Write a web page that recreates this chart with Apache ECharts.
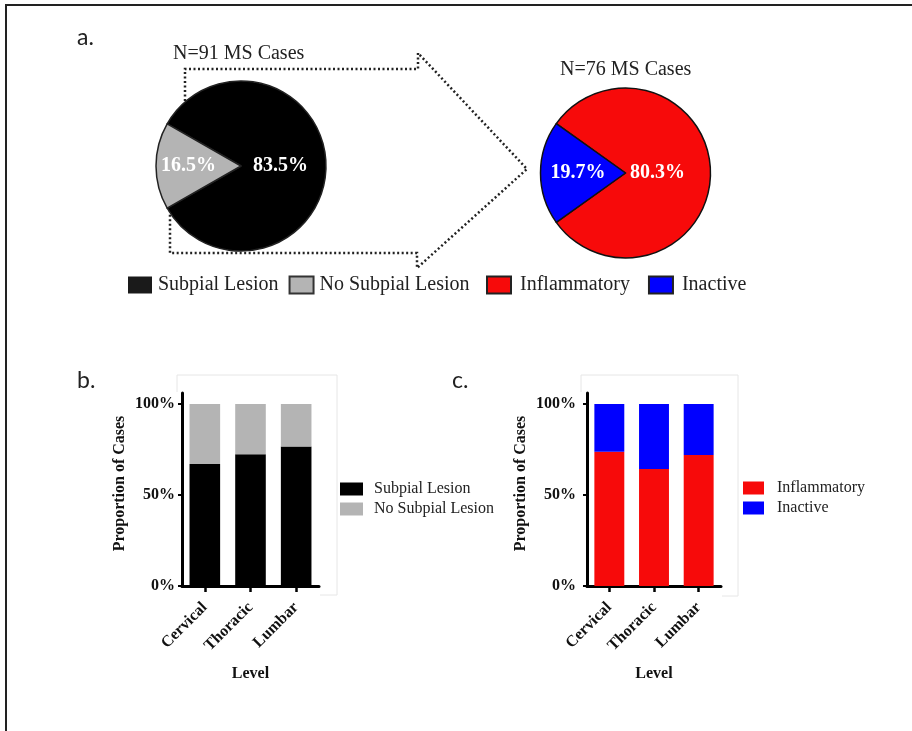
<!DOCTYPE html>
<html>
<head>
<meta charset="utf-8">
<script src="https://cdn.jsdelivr.net/npm/echarts@6/dist/echarts.min.js"></script>
<style>
  html, body { margin: 0; padding: 0; background: #fff; }
  #main { width: 912px; height: 731px; }
</style>
</head>
<body>
<div id="main"></div>
<script>
  // a. pies
  const pieALabels = ['Subpial Lesion', 'No Subpial Lesion'];
  const pieAValues = [83.5, 16.5];
  const pieBLabels = ['Inflammatory', 'Inactive'];
  const pieBValues = [80.3, 19.7];

  // b. / c. stacked bars (percent of cases)
  const levels = ['Cervical', 'Thoracic', 'Lumbar'];
  const subpialPct = [67.0, 72.4, 76.6];
  const noSubpialPct = [33.0, 27.6, 23.4];
  const inflammPct = [73.8, 64.3, 72.0];
  const inactivePct = [26.2, 35.7, 28.0];
  const yTicks = [0, 50, 100];

  const serif = 'Liberation Serif';
  const BLACK = '#000000';
  const GRAY = '#b4b4b4';
  const RED = '#f70a0a';
  const BLUE = '#0000ff';

  const chart = echarts.init(document.getElementById('main'));

  // small helpers for the two bar panels
  const yAxisFor = (gi, nameGap, labelMargin) => ({
    type: 'value', gridIndex: gi, min: 0, max: 106,
    name: 'Proportion of Cases', nameLocation: 'middle', nameGap: nameGap,
    nameTextStyle: { fontFamily: serif, fontWeight: 'bold', fontSize: 16, color: '#111', padding: [0, 0, 0, 12] },
    axisLine: { show: true, lineStyle: { color: '#000', width: 3 } },
    axisTick: { show: true, length: 4, lineStyle: { color: '#000', width: 2 }, customValues: yTicks },
    axisLabel: {
      fontFamily: serif, fontWeight: 'bold', fontSize: 16, color: '#111', margin: labelMargin,
      customValues: yTicks,
      formatter: v => v + '%'
    },
    splitLine: { show: false }
  });
  const xAxisFor = (gi) => ({
    type: 'category', gridIndex: gi, data: levels,
    name: 'Level', nameLocation: 'middle', nameGap: 80,
    nameTextStyle: { fontFamily: serif, fontWeight: 'bold', fontSize: 16, color: '#111' },
    axisLine: { show: true, lineStyle: { color: '#000', width: 3 } },
    axisTick: { show: true, alignWithLabel: true, length: 6, lineStyle: { color: '#000', width: 2.5 } },
    axisLabel: { rotate: 45, margin: 19, fontFamily: serif, fontWeight: 'bold', fontSize: 16, color: '#111' }
  });
  const barSeries = (name, gi, data, color) => ({
    name: name, type: 'bar', stack: 'g' + gi, xAxisIndex: gi, yAxisIndex: gi,
    data: data, barCategoryGap: '33%', itemStyle: { color: color }
  });
  const panelTag = (text, left, top) => ({
    text: text, left: left, top: top, padding: 0,
    textStyle: { fontFamily: 'Lato', fontSize: 23, fontWeight: 'normal', color: '#222' }
  });

  const option = {
    backgroundColor: '#fff',
    animation: false,
    title: [
      panelTag('a.', 77, 26),
      panelTag('b.', 77, 369),
      panelTag('c.', 452, 369),
      { text: 'N=91 MS Cases', left: 173, top: 44, padding: 0, textStyle: { fontFamily: serif, fontSize: 20, fontWeight: 'normal', color: '#222' } },
      { text: 'N=76 MS Cases', left: 560, top: 60, padding: 0, textStyle: { fontFamily: serif, fontSize: 20, fontWeight: 'normal', color: '#222' } }
    ],
    legend: [
      {
        left: 128, top: 275, padding: 0, itemGap: 10, itemWidth: 24, itemHeight: 17, icon: 'rect',
        selectedMode: false,
        textStyle: { fontFamily: serif, fontSize: 20, color: '#222', padding: [0, 0, 0, 1] },
        data: [
          { name: 'Subpial Lesion', itemStyle: { color: '#1a1a1a', borderWidth: 0 } },
          { name: 'No Subpial Lesion', itemStyle: { color: GRAY, borderColor: '#333', borderWidth: 2 } }
        ]
      },
      {
        left: 486, top: 275, padding: 0, itemGap: 18, itemWidth: 24, itemHeight: 17, icon: 'rect',
        selectedMode: false,
        textStyle: { fontFamily: serif, fontSize: 20, color: '#222', padding: [0, 0, 0, 4] },
        data: [
          { name: 'Inflammatory', itemStyle: { color: RED, borderColor: '#222', borderWidth: 2 } },
          { name: 'Inactive', itemStyle: { color: BLUE, borderColor: '#222', borderWidth: 2 } }
        ]
      },
      {
        left: 340, top: 481, padding: 0, orient: 'vertical', itemGap: 4, itemWidth: 23, itemHeight: 13, icon: 'rect',
        selectedMode: false,
        textStyle: { fontFamily: serif, fontSize: 16, lineHeight: 16, color: '#222', padding: [0, 0, 0, 6] },
        data: [
          { name: 'Subpial Lesion', itemStyle: { color: BLACK, borderWidth: 0 } },
          { name: 'No Subpial Lesion', itemStyle: { color: GRAY, borderWidth: 0 } }
        ]
      },
      {
        left: 743, top: 480, padding: 0, orient: 'vertical', itemGap: 4, itemWidth: 21, itemHeight: 13, icon: 'rect',
        selectedMode: false,
        textStyle: { fontFamily: serif, fontSize: 16, lineHeight: 16, color: '#222', padding: [0, 0, 0, 8] },
        data: [
          { name: 'Inflammatory', itemStyle: { color: RED, borderWidth: 0 } },
          { name: 'Inactive', itemStyle: { color: BLUE, borderWidth: 0 } }
        ]
      }
    ],
    graphic: [
      // page frame
      { type: 'polyline', z: 0, shape: { points: [[6, 740], [6, 5], [920, 5]] }, style: { stroke: '#222', lineWidth: 2, fill: null } },
      // dotted arrow behind the pies
      {
        type: 'polyline', z: 0,
        shape: { points: [[185, 110], [185, 69], [418, 69], [418, 53], [527, 169], [417, 268], [417, 253], [170, 253], [170, 200]] },
        style: { stroke: '#222', lineWidth: 2.5, lineDash: [2, 2.5], fill: null }
      },
      // faint panel frames
      { type: 'polyline', z: 0, shape: { points: [[177, 392], [177, 375], [337, 375], [337, 595], [320, 595]] }, style: { stroke: '#e6e6e6', lineWidth: 1, fill: null } },
      { type: 'polyline', z: 0, shape: { points: [[581, 392], [581, 375], [738, 375], [738, 596], [722, 596]] }, style: { stroke: '#e6e6e6', lineWidth: 1, fill: null } }
    ],
    grid: [
      { left: 182, top: 393, width: 137, height: 193 },
      { left: 587, top: 393, width: 134, height: 193 }
    ],
    xAxis: [xAxisFor(0), xAxisFor(1)],
    yAxis: [yAxisFor(0, 54, 7), yAxisFor(1, 58, 11)],
    series: [
      {
        type: 'pie', center: [241, 166], radius: 85, z: 2,
        startAngle: 180 - pieAValues[1] * 1.8, clockwise: true,
        silent: true,
        itemStyle: { borderColor: '#222', borderWidth: 1.5 },
        label: {
          show: true, position: 'inside', color: '#fff',
          fontFamily: serif, fontWeight: 'bold', fontSize: 20,
          formatter: p => p.value.toFixed(1) + '%'
        },
        labelLine: { show: false },
        data: [
          { name: pieALabels[0], value: pieAValues[0], itemStyle: { color: BLACK }, label: { padding: [0, 12, 0, 0] } },
          { name: pieALabels[1], value: pieAValues[1], itemStyle: { color: GRAY }, label: { padding: [0, 14, 0, 0] } }
        ]
      },
      {
        type: 'pie', center: [625.5, 173], radius: 85, z: 2,
        startAngle: 180 - pieBValues[1] * 1.8, clockwise: true,
        silent: true,
        itemStyle: { borderColor: '#111', borderWidth: 1.5 },
        label: {
          show: true, position: 'inside', color: '#fff',
          fontFamily: serif, fontWeight: 'bold', fontSize: 20,
          formatter: p => p.value.toFixed(1) + '%'
        },
        labelLine: { show: false },
        data: [
          { name: pieBLabels[0], value: pieBValues[0], itemStyle: { color: RED }, label: { padding: [0, 27, 0, 0] } },
          { name: pieBLabels[1], value: pieBValues[1], itemStyle: { color: BLUE }, label: { padding: [0, 4, 0, 0] } }
        ]
      },
      barSeries('Subpial Lesion', 0, subpialPct, BLACK),
      barSeries('No Subpial Lesion', 0, noSubpialPct, GRAY),
      barSeries('Inflammatory', 1, inflammPct, RED),
      barSeries('Inactive', 1, inactivePct, BLUE)
    ]
  };

  chart.setOption(option);
</script>
</body>
</html>
